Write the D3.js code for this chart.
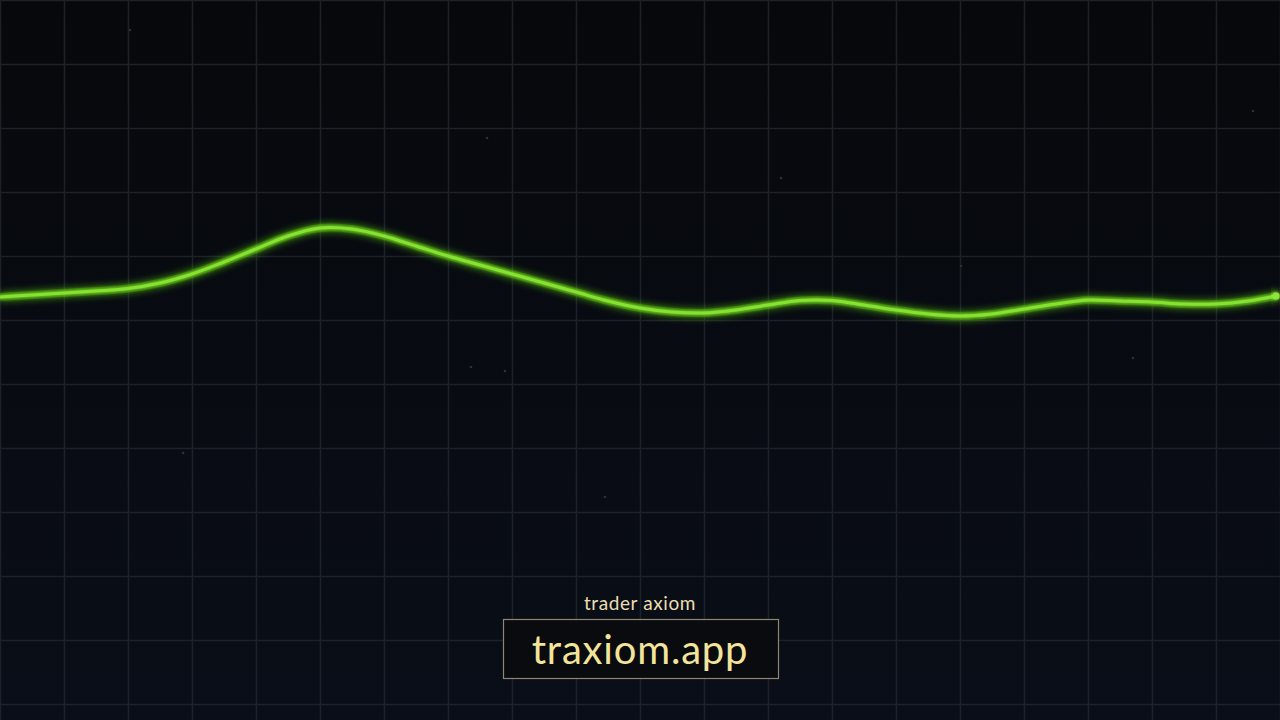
<!DOCTYPE html>
<html><head><meta charset="utf-8">
<script src="https://cdn.jsdelivr.net/npm/d3@7"></script>
<style>html,body{margin:0;padding:0;background:#06080b;overflow:hidden}</style>
</head><body>
<svg id="c" width="1280" height="720"></svg>
<script>
// x positions (px along the time axis, sampled every 32 px) and the line level (720 - screen y)
const steps = [0,32,64,96,128,160,192,224,256,288,320,352,384,416,448,480,512,544,576,608,640,672,704,736,768,800,832,864,896,928,960,992,1024,1056,1088,1120,1152,1184,1216,1248,1276];
const levels = [423,425,427,429,431.5,437,446,458,471,484,492,491,484,474,464,455,446,437,428,419,412,408,407,410,415,419.5,419.5,415,410,406,404,406,411,416,420,419,418,416,416,419,424];
const gridTicks = d3.range(0, 1281, 64);
const specks = [[130,30],[487,138],[781,178],[183,453],[471,367],[505,371],[605,497],[961,266],[1253,111],[1133,358]];
const subtitle = "trader axiom";
const title = "traxiom.app";

const W = 1280, H = 720;
const svg = d3.select("#c");
const defs = svg.append("defs");
const bg = defs.append("linearGradient").attr("id","bg").attr("x1",0).attr("y1",0).attr("x2",0).attr("y2",1);
bg.append("stop").attr("offset","0%").attr("stop-color","#06080b");
bg.append("stop").attr("offset","100%").attr("stop-color","#0a0e18");
const f = defs.append("filter").attr("id","glow").attr("x","-10%").attr("y","-200%").attr("width","120%").attr("height","500%");
f.append("feGaussianBlur").attr("in","SourceGraphic").attr("stdDeviation",4).attr("result","b1");
f.append("feGaussianBlur").attr("in","SourceGraphic").attr("stdDeviation",1.5).attr("result","b2");
const m = f.append("feMerge");
m.append("feMergeNode").attr("in","b1");
m.append("feMergeNode").attr("in","b2");
m.append("feMergeNode").attr("in","SourceGraphic");

svg.append("rect").attr("width",W).attr("height",H).attr("fill","url(#bg)");

const x = d3.scaleLinear().domain([0,1280]).range([0,W]);
const y = d3.scaleLinear().domain([0,720]).range([H,0]);

const g = svg.append("g");
g.selectAll("line.v").data(gridTicks).join("line").attr("class","v")
  .attr("x1",d=>x(d)+0.5).attr("x2",d=>x(d)+0.5).attr("y1",0).attr("y2",H)
  .attr("stroke","#1d2128").attr("stroke-width",1.6);
g.selectAll("line.h").data(d3.range(0, 721, 64)).join("line").attr("class","h")
  .attr("y1",d=>y(720-d)+0.5).attr("y2",d=>y(720-d)+0.5).attr("x1",0).attr("x2",W)
  .attr("stroke","#1d2128").attr("stroke-width",1.6);

svg.selectAll("circle.s").data(specks).join("circle").attr("class","s")
  .attr("cx",d=>d[0]).attr("cy",d=>d[1]).attr("r",1.3).attr("fill","#2c3138");

const pts = steps.map((s,i)=>[s,levels[i]]);
const line = d3.line().x(d=>x(d[0])).y(d=>y(d[1])).curve(d3.curveCatmullRom.alpha(0.5));
svg.append("path").datum(pts).attr("d",line).attr("fill","none")
  .attr("stroke","#3f9a0c").attr("stroke-opacity",0.35).attr("stroke-width",8).attr("filter","url(#glow)");
svg.append("path").datum(pts).attr("d",line).attr("fill","none")
  .attr("stroke","#86e230").attr("stroke-width",3).attr("stroke-linecap","round").attr("filter","url(#glow)");
const last = pts[pts.length-1];
svg.append("circle").attr("cx",x(last[0])).attr("cy",y(last[1])).attr("r",3.5).attr("fill","#8ee63a").attr("filter","url(#glow)");

svg.append("text").attr("x",640).attr("y",610).attr("text-anchor","middle")
  .attr("font-family","Lato, 'Noto Sans', sans-serif").attr("font-size",19).attr("letter-spacing",0.6).attr("fill","#e9dfb0").text(subtitle);
svg.append("rect").attr("x",503.5).attr("y",619.5).attr("width",275).attr("height",59)
  .attr("fill","#0a0b0e").attr("stroke","#8c8672").attr("stroke-width",1.2);
svg.append("text").attr("x",640).attr("y",664).attr("text-anchor","middle")
  .attr("font-family","Lato, 'Noto Sans', sans-serif").attr("font-size",40).attr("letter-spacing",0.8).attr("fill","#f2e49a").text(title);
</script>
</body></html>
